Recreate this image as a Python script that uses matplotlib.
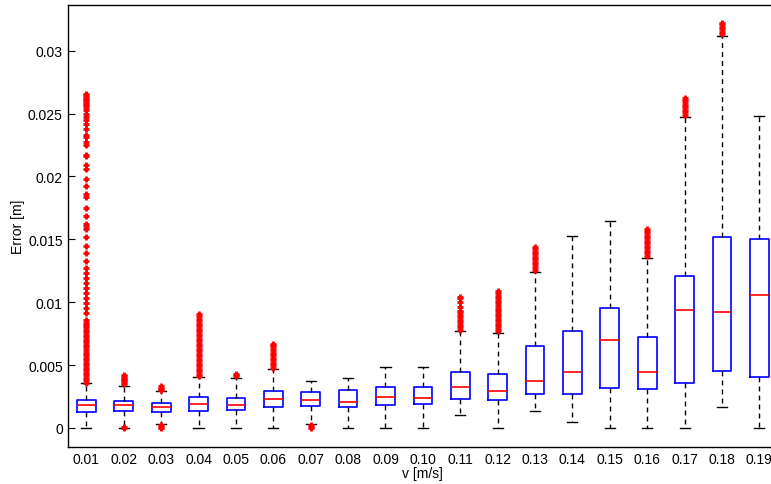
import matplotlib
matplotlib.use('Agg')
import matplotlib.pyplot as plt

plt.rcParams['font.family'] = ['Liberation Sans', 'DejaVu Sans']

# speeds (box labels)
speeds = ['0.01', '0.02', '0.03', '0.04', '0.05', '0.06', '0.07', '0.08', '0.09', '0.10',
          '0.11', '0.12', '0.13', '0.14', '0.15', '0.16', '0.17', '0.18', '0.19']

# box statistics per speed [m]
medians = [0.0018, 0.00183, 0.00165, 0.00189, 0.00186, 0.00233, 0.0022, 0.00209, 0.00244, 0.00241,
           0.00326, 0.00292, 0.00372, 0.00446, 0.00698, 0.00448, 0.00937, 0.00926, 0.0106]
q1 = [0.0013, 0.00133, 0.00127, 0.00135, 0.00141, 0.00165, 0.00178, 0.00167, 0.00185, 0.00191,
      0.00228, 0.0022, 0.00268, 0.0027, 0.00321, 0.00313, 0.0036, 0.00454, 0.00408]
q3 = [0.00225, 0.00217, 0.002, 0.00244, 0.00241, 0.00292, 0.00284, 0.00305, 0.00329, 0.00324,
      0.00446, 0.00432, 0.00655, 0.00774, 0.00955, 0.00727, 0.0121, 0.0152, 0.0150]
whisk_lo = [0.0, 0.0, 0.0003, 0.0, 0.0, 0.0, 0.0003, 0.0, 0.0, 0.0,
            0.00106, 0.0, 0.00135, 0.0005, 0.0, 0.0, 0.0, 0.00165, 0.0]
whisk_hi = [0.0036, 0.00337, 0.00294, 0.00403, 0.004, 0.0047, 0.00376, 0.004, 0.00483, 0.00488,
            0.0077, 0.00759, 0.0124, 0.01528, 0.01642, 0.0135, 0.02473, 0.03114, 0.02477]

# outliers per speed
fliers = [
    [0.0036, 0.0038, 0.0040, 0.0042, 0.0044, 0.0046, 0.0048, 0.0050, 0.0052, 0.0054, 0.0056,
     0.0058, 0.0060, 0.0062, 0.0064, 0.0066, 0.0068, 0.0070, 0.0072, 0.0074, 0.0076, 0.0078,
     0.0080, 0.0082, 0.00836, 0.00862, 0.00915, 0.00955, 0.00995, 0.01035, 0.01074, 0.01114,
     0.01154, 0.01194, 0.01233, 0.01273, 0.01327, 0.01393, 0.01451, 0.01518, 0.01584, 0.0161,
     0.01623, 0.01682, 0.01748, 0.01836, 0.01862, 0.01923, 0.01982, 0.02061, 0.02093, 0.02159,
     0.02167, 0.02247, 0.02278, 0.02313, 0.02326, 0.02379, 0.02419, 0.02446, 0.02473, 0.02499,
     0.02525, 0.02552, 0.02565, 0.02578, 0.02592, 0.02605, 0.02618, 0.02632, 0.02645, 0.02658],
    [0.0, 0.00005, 0.0035, 0.0036, 0.0037, 0.0038, 0.0039, 0.0040, 0.0041, 0.0042],
    [0.0, 0.0001, 0.0002, 0.0030, 0.0031, 0.0032, 0.0033],
    [0.0041, 0.0043, 0.0045, 0.0047, 0.0049, 0.0051, 0.0053, 0.0055, 0.0057, 0.0059, 0.0061,
     0.0063, 0.0065, 0.0067, 0.0069, 0.0071, 0.0073, 0.0075, 0.0077, 0.0079, 0.0081, 0.0083,
     0.0085, 0.0087, 0.0089, 0.0091],
    [0.0041, 0.0042, 0.0043],
    [0.0048, 0.0050, 0.0052, 0.0054, 0.0056, 0.0058, 0.0060, 0.0062, 0.0064, 0.0066, 0.0067],
    [0.0, 0.0001, 0.0002],
    [],
    [],
    [],
    [0.0078, 0.0080, 0.0082, 0.0084, 0.0086, 0.0088, 0.0090, 0.0092, 0.0093, 0.0096, 0.0100,
     0.0103, 0.0104],
    [0.0077, 0.0079, 0.0081, 0.0083, 0.0085, 0.0087, 0.0089, 0.0091, 0.0093, 0.0095, 0.0097,
     0.0099, 0.0101, 0.0103, 0.0105, 0.0107, 0.0109],
    [0.0126, 0.0128, 0.0130, 0.0132, 0.0134, 0.0136, 0.0138, 0.0140, 0.0142, 0.0144],
    [],
    [],
    [0.0137, 0.0139, 0.0141, 0.0143, 0.0145, 0.0147, 0.0149, 0.0151, 0.0153, 0.0155, 0.0157,
     0.0158],
    [0.0249, 0.0251, 0.0253, 0.0255, 0.0257, 0.0259, 0.0261, 0.0262],
    [0.0313, 0.0315, 0.0317, 0.0319, 0.0321, 0.0322],
    [],
]

yticks = [0, 0.005, 0.01, 0.015, 0.02, 0.025, 0.03]
yticklabels = ['0', '0.005', '0.01', '0.015', '0.02', '0.025', '0.03']

stats = []
for i in range(len(speeds)):
    stats.append(dict(med=medians[i], q1=q1[i], q3=q3[i], whislo=whisk_lo[i],
                      whishi=whisk_hi[i], fliers=fliers[i], label=speeds[i]))

fig = plt.figure(figsize=(7.71, 4.85), dpi=100)
# axes runs a little past the right edge of the figure
ax = fig.add_axes([0.0878, 0.0757, 0.9213, 0.9126])

ax.bxp(stats, positions=range(1, len(speeds) + 1), widths=0.5, showfliers=True,
       boxprops=dict(color='blue', linewidth=1.2),
       medianprops=dict(color='red', linewidth=1.2),
       whiskerprops=dict(color='black', linewidth=1.0, linestyle=(0, (3.5, 3))),
       capprops=dict(color='black', linewidth=1.0),
       capwidths=0.27,
       flierprops=dict(marker='+', markersize=5, markeredgewidth=2,
                       markeredgecolor='red', linestyle='none'))

ax.set_xlim(0.5, len(speeds) + 0.5)
ax.set_ylim(-0.001535, 0.03366)
ax.set_yticks(yticks)
ax.set_yticklabels(yticklabels)
ax.set_xticks(range(1, len(speeds) + 1))
ax.set_xticklabels(speeds)
ax.tick_params(axis='y', direction='in', length=5, labelsize=10, pad=3.5)
ax.tick_params(axis='x', length=0, labelsize=10, pad=3.5)

for s in ax.spines.values():
    s.set_linewidth(1.0)

ax.set_xlabel('v [m/s]', fontsize=10, labelpad=0)
ax.set_ylabel('Error [m]', fontsize=10, labelpad=2)

fig.savefig('out.png', dpi=100)
